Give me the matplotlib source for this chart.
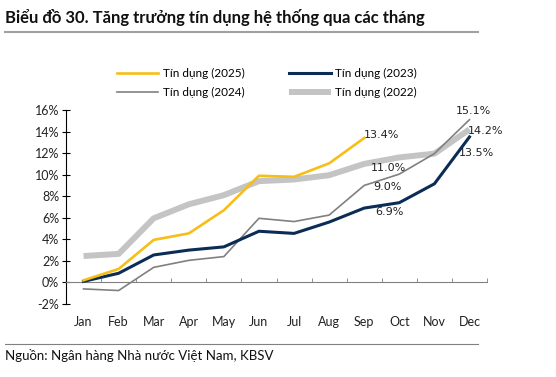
import numpy as np
import matplotlib
matplotlib.use("Agg")
import matplotlib.pyplot as plt

plt.rcParams['font.family'] = ['Lato', 'DejaVu Sans']

months = ['Jan', 'Feb', 'Mar', 'Apr', 'May', 'Jun', 'Jul', 'Aug', 'Sep', 'Oct', 'Nov', 'Dec']
credit_2025 = [0.2, 1.25, 3.95, 4.55, 6.7, 9.9, 9.8, 11.05, 13.4]
credit_2024 = [-0.6, -0.75, 1.4, 2.05, 2.4, 5.95, 5.65, 6.25, 9.0, 10.05, 11.95, 15.1]
credit_2023 = [0.1, 0.85, 2.55, 3.0, 3.3, 4.75, 4.55, 5.6, 6.9, 7.4, 9.15, 13.5]
credit_2022 = [2.45, 2.65, 5.95, 7.25, 8.1, 9.4, 9.55, 9.95, 11.0, 11.6, 11.95, 14.2]

yellow = '#F7BE18'
navy = '#0B2C55'
gray = '#808080'
lgray = '#C4C4C4'

fig = plt.figure(figsize=(5.56, 3.77), dpi=100)
ax = fig.add_axes([66/556, 1 - 304/377, (487 - 66)/556, (304 - 110)/377])

x = np.arange(len(months))
ax.plot(x, credit_2022, color=lgray, lw=4.3, solid_capstyle='butt', label='Tín dụng (2022)', zorder=2)
ax.plot(x, credit_2024, color=gray, lw=1.2, label='Tín dụng (2024)', zorder=3)
ax.plot(x, credit_2023, color=navy, lw=2.2, label='Tín dụng (2023)', zorder=4)
ax.plot(x[:len(credit_2025)], credit_2025, color=yellow, lw=1.9, label='Tín dụng (2025)', zorder=5)

ax.set_xlim(-0.5, 11.5)
ax.set_ylim(-2, 16)
ax.set_yticks(np.arange(-2, 17, 2))
ax.set_yticklabels([f'{v}%' for v in range(-2, 17, 2)])
ax.set_xticks(x)
ax.set_xticklabels(months)
ax.set_xticks(np.arange(0.5, 11.6, 1), minor=True)

for s in ['top', 'right']:
    ax.spines[s].set_visible(False)
ax.spines['left'].set_color('black')
ax.spines['bottom'].set_position(('data', 0))
ax.spines['bottom'].set_color(gray)
ax.tick_params(axis='y', which='major', direction='inout', length=6, color='black', labelsize=9, labelcolor='#222222', pad=2)
ax.tick_params(axis='x', which='major', length=0, pad=24, labelsize=9, labelcolor='#222222')
ax.tick_params(axis='x', which='minor', direction='in', length=3, color=gray)

# data labels
lab = dict(fontsize=8, family='DejaVu Sans', color='#222222', textcoords='offset pixels', va='center')
ax.annotate('13.4%', (8, credit_2025[8]), xytext=(0, 3), ha='left', **lab)
ax.annotate('11.0%', (8, credit_2022[8]), xytext=(24, -4), ha='center', **lab)
ax.annotate('9.0%', (8, credit_2024[8]), xytext=(23, -2), ha='center', **lab)
ax.annotate('6.9%', (8, credit_2023[8]), xytext=(25, -4), ha='center', **lab)
ax.annotate('15.1%', (11, credit_2024[11]), xytext=(4, 9), ha='center', **lab)
ax.annotate('14.2%', (11, credit_2022[11]), xytext=(-2, -2), ha='left', **lab)
ax.annotate('13.5%', (11, credit_2023[11]), xytext=(7, -16), ha='center', **lab)

h, l = ax.get_legend_handles_labels()
order = [3, 1, 2, 0]
fig.legend([h[i] for i in order], [l[i] for i in order], ncol=2, frameon=False,
           loc='center left', bbox_to_anchor=(106/556, 1 - 83/377), fontsize=8.5,
           handlelength=3.5, columnspacing=3.8, handletextpad=0.4, labelspacing=0.7)

fig.text(5/556, 1 - 17/377, 'Biểu đồ 30. Tăng trưởng tín dụng hệ thống qua các tháng',
         fontsize=12, fontweight='bold', va='center', ha='left', color='#111111')
fig.add_artist(plt.Line2D([5/556, 478/556], [1 - 32/377, 1 - 32/377], color='#A0A0A0', lw=1.5))
fig.add_artist(plt.Line2D([5/556, 478/556], [1 - 344/377, 1 - 344/377], color='#808080', lw=0.8))
fig.text(5/556, 1 - 355/377, 'Nguồn: Ngân hàng Nhà nước Việt Nam, KBSV',
         fontsize=9.5, va='center', ha='left', color='#111111')

fig.savefig('out.png', dpi=100)
